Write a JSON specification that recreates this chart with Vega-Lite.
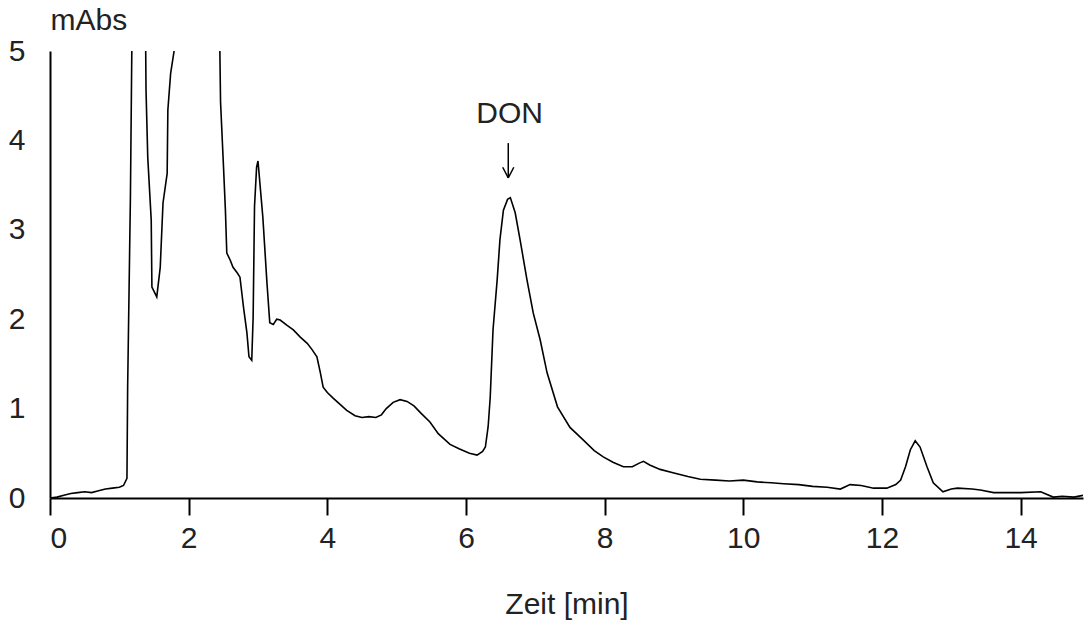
{
  "$schema": "https://vega.github.io/schema/vega-lite/v6.json",
  "width": 1033,
  "height": 447,
  "autosize": {"type": "none"},
  "padding": {"left": 50, "top": 51, "right": 2, "bottom": 126},
  "background": "white",
  "config": {"view": {"stroke": null}, "font": "Liberation Sans"},
  "datasets": {
    "trace": [
      {"t": 0, "v": 0}, {"t": 0.1, "v": 0.01}, {"t": 0.2, "v": 0.03}, {"t": 0.3, "v": 0.05}, {"t": 0.4, "v": 0.06},
      {"t": 0.5, "v": 0.07}, {"t": 0.6, "v": 0.06}, {"t": 0.7, "v": 0.08}, {"t": 0.8, "v": 0.1}, {"t": 0.9, "v": 0.11},
      {"t": 1.0, "v": 0.12}, {"t": 1.06, "v": 0.14}, {"t": 1.11, "v": 0.22}, {"t": 1.12, "v": 1.24}, {"t": 1.16, "v": 3.37},
      {"t": 1.18, "v": 5.0}, {"t": 1.22, "v": 8}, {"t": 1.3, "v": 9}, {"t": 1.37, "v": 6}, {"t": 1.385, "v": 4.56},
      {"t": 1.41, "v": 3.81}, {"t": 1.46, "v": 3.11}, {"t": 1.47, "v": 2.36}, {"t": 1.54, "v": 2.25}, {"t": 1.59, "v": 2.58},
      {"t": 1.63, "v": 3.3}, {"t": 1.69, "v": 3.63}, {"t": 1.7, "v": 4.34}, {"t": 1.74, "v": 4.75}, {"t": 1.79, "v": 5.0},
      {"t": 1.9, "v": 6.5}, {"t": 2.1, "v": 8}, {"t": 2.4, "v": 6}, {"t": 2.45, "v": 5.0}, {"t": 2.46, "v": 4.43},
      {"t": 2.5, "v": 3.75}, {"t": 2.53, "v": 3.22}, {"t": 2.55, "v": 2.74}, {"t": 2.6, "v": 2.66}, {"t": 2.64, "v": 2.58},
      {"t": 2.7, "v": 2.52}, {"t": 2.74, "v": 2.47}, {"t": 2.79, "v": 2.14}, {"t": 2.84, "v": 1.85}, {"t": 2.87, "v": 1.58},
      {"t": 2.91, "v": 1.54}, {"t": 2.93, "v": 2.02}, {"t": 2.95, "v": 3.26}, {"t": 2.98, "v": 3.7}, {"t": 3.0, "v": 3.77},
      {"t": 3.04, "v": 3.41}, {"t": 3.07, "v": 3.14}, {"t": 3.13, "v": 2.4}, {"t": 3.17, "v": 1.96}, {"t": 3.22, "v": 1.94},
      {"t": 3.27, "v": 2.0}, {"t": 3.32, "v": 1.99}, {"t": 3.42, "v": 1.93}, {"t": 3.51, "v": 1.88}, {"t": 3.61, "v": 1.8},
      {"t": 3.71, "v": 1.73}, {"t": 3.78, "v": 1.66}, {"t": 3.85, "v": 1.58}, {"t": 3.9, "v": 1.4}, {"t": 3.94, "v": 1.24},
      {"t": 4.0, "v": 1.18}, {"t": 4.08, "v": 1.12}, {"t": 4.18, "v": 1.05}, {"t": 4.28, "v": 0.98}, {"t": 4.4, "v": 0.92},
      {"t": 4.5, "v": 0.9}, {"t": 4.6, "v": 0.91}, {"t": 4.7, "v": 0.9}, {"t": 4.78, "v": 0.93}, {"t": 4.85, "v": 1.0},
      {"t": 4.95, "v": 1.07}, {"t": 5.05, "v": 1.1}, {"t": 5.15, "v": 1.08}, {"t": 5.25, "v": 1.03}, {"t": 5.35, "v": 0.95},
      {"t": 5.48, "v": 0.85}, {"t": 5.6, "v": 0.72}, {"t": 5.77, "v": 0.6}, {"t": 5.9, "v": 0.55}, {"t": 6.05, "v": 0.5},
      {"t": 6.16, "v": 0.48}, {"t": 6.24, "v": 0.52}, {"t": 6.28, "v": 0.57}, {"t": 6.32, "v": 0.8}, {"t": 6.35, "v": 1.13},
      {"t": 6.39, "v": 1.88}, {"t": 6.45, "v": 2.44}, {"t": 6.49, "v": 2.89}, {"t": 6.54, "v": 3.22}, {"t": 6.6, "v": 3.34},
      {"t": 6.64, "v": 3.36}, {"t": 6.71, "v": 3.19}, {"t": 6.78, "v": 2.89}, {"t": 6.88, "v": 2.44}, {"t": 6.97, "v": 2.07},
      {"t": 7.07, "v": 1.77}, {"t": 7.17, "v": 1.4}, {"t": 7.32, "v": 1.02}, {"t": 7.5, "v": 0.79}, {"t": 7.69, "v": 0.65},
      {"t": 7.85, "v": 0.53}, {"t": 7.98, "v": 0.46}, {"t": 8.12, "v": 0.4}, {"t": 8.27, "v": 0.35}, {"t": 8.4, "v": 0.35},
      {"t": 8.5, "v": 0.39}, {"t": 8.56, "v": 0.41}, {"t": 8.65, "v": 0.37}, {"t": 8.8, "v": 0.32}, {"t": 9.0, "v": 0.28},
      {"t": 9.2, "v": 0.24}, {"t": 9.38, "v": 0.21}, {"t": 9.6, "v": 0.2}, {"t": 9.8, "v": 0.19}, {"t": 10.0, "v": 0.2},
      {"t": 10.2, "v": 0.18}, {"t": 10.4, "v": 0.17}, {"t": 10.58, "v": 0.16}, {"t": 10.8, "v": 0.15}, {"t": 11.0, "v": 0.13},
      {"t": 11.21, "v": 0.12}, {"t": 11.4, "v": 0.1}, {"t": 11.54, "v": 0.15}, {"t": 11.7, "v": 0.14}, {"t": 11.88, "v": 0.11},
      {"t": 12.07, "v": 0.11}, {"t": 12.2, "v": 0.15}, {"t": 12.27, "v": 0.2}, {"t": 12.34, "v": 0.35}, {"t": 12.41, "v": 0.54},
      {"t": 12.48, "v": 0.64}, {"t": 12.55, "v": 0.57}, {"t": 12.65, "v": 0.35}, {"t": 12.74, "v": 0.17}, {"t": 12.88, "v": 0.07},
      {"t": 13.0, "v": 0.1}, {"t": 13.09, "v": 0.11}, {"t": 13.3, "v": 0.1}, {"t": 13.42, "v": 0.09}, {"t": 13.61, "v": 0.06},
      {"t": 13.8, "v": 0.06}, {"t": 14.0, "v": 0.06}, {"t": 14.29, "v": 0.07}, {"t": 14.47, "v": 0.01}, {"t": 14.6, "v": 0.02},
      {"t": 14.77, "v": 0.01}, {"t": 14.9, "v": 0.03}
    ],
    "arrow": [
      {"t": 6.61, "v": 3.97, "t2": 6.61, "v2": 3.58},
      {"t": 6.53, "v": 3.7, "t2": 6.61, "v2": 3.58},
      {"t": 6.69, "v": 3.7, "t2": 6.61, "v2": 3.58}
    ],
    "label": [{"t": 6.63, "v": 4.3, "name": "DON"}]
  },
  "layer": [
    {
      "data": {"name": "trace"},
      "mark": {"type": "line", "color": "#000000", "strokeWidth": 1.6, "clip": true},
      "encoding": {
        "x": {
          "field": "t", "type": "quantitative",
          "scale": {"domain": [0, 14.9], "nice": false, "zero": false},
          "axis": {
            "values": [0, 2, 4, 6, 8, 10, 12, 14],
            "format": "d",
            "grid": false,
            "domainColor": "#000000", "domainWidth": 2,
            "tickColor": "#000000", "tickWidth": 2, "tickSize": 17,
            "labelFontSize": 30, "labelColor": "#222222", "labelPadding": 8,
            "title": "Zeit [min]", "titleFontSize": 30, "titleFontWeight": "normal",
            "titleColor": "#222222", "titlePadding": 36
          }
        },
        "y": {
          "field": "v", "type": "quantitative",
          "scale": {"domain": [0, 5], "nice": false},
          "axis": {
            "values": [0, 1, 2, 3, 4, 5],
            "format": "d",
            "grid": false,
            "ticks": false,
            "domainColor": "#000000", "domainWidth": 2,
            "labelFontSize": 30, "labelColor": "#222222", "labelPadding": 25,
            "title": "mAbs", "titleFontSize": 30, "titleFontWeight": "normal",
            "titleColor": "#222222", "titleAngle": 0, "titleAlign": "left",
            "titleBaseline": "bottom", "titleX": 0, "titleY": -16
          }
        }
      }
    },
    {
      "mark": {"type": "rule", "color": "#000000", "strokeWidth": 2},
      "encoding": {"y": {"datum": 5}}
    },
    {
      "data": {"name": "arrow"},
      "mark": {"type": "rule", "color": "#000000", "strokeWidth": 1.5},
      "encoding": {
        "x": {"field": "t", "type": "quantitative"},
        "y": {"field": "v", "type": "quantitative"},
        "x2": {"field": "t2"},
        "y2": {"field": "v2"}
      }
    },
    {
      "data": {"name": "label"},
      "mark": {"type": "text", "fontSize": 30, "color": "#222222", "baseline": "middle", "align": "center"},
      "encoding": {
        "x": {"field": "t", "type": "quantitative"},
        "y": {"field": "v", "type": "quantitative"},
        "text": {"field": "name"}
      }
    }
  ]
}
